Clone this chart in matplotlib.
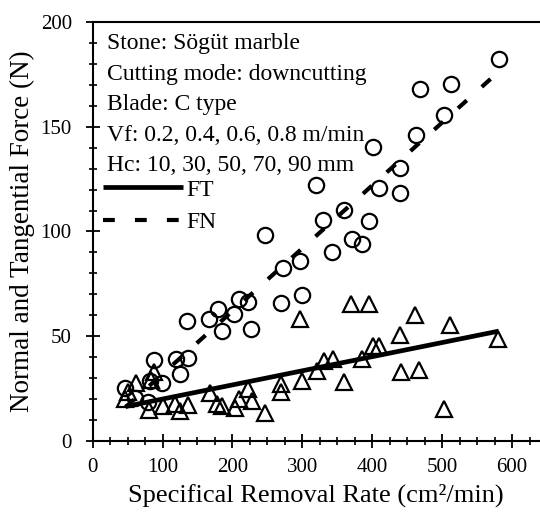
import numpy as np
import matplotlib
matplotlib.use("Agg")
import matplotlib.pyplot as plt
from matplotlib.ticker import MultipleLocator

# FN (normal force) points
fn_x = [581, 512, 469, 503, 462, 401, 440, 409, 440, 320, 360, 330, 396, 247,
        371, 385, 343, 296, 272, 300, 269, 209, 222, 179, 167, 202, 135, 185,
        227, 88, 119, 136, 125, 99, 82, 47, 61, 79]
fn_y = [182.5, 170.6, 167.8, 155.6, 146, 140.5, 130.2, 120.6, 118.3, 122.2,
        110.3, 105.6, 104.8, 98.2, 96.3, 94, 90, 86, 82.5, 69.7, 65.8, 67.6,
        66.2, 62.8, 58.4, 60.5, 57.4, 52.5, 53.6, 38.5, 39.1, 39.8, 31.9, 27.5,
        28.8, 25.4, 20.6, 18.5]

# FT (tangential force) points
ft_x = [62, 50, 47, 88, 84, 80, 100, 118, 125, 136, 168, 178, 185, 203, 210,
        222, 228, 247, 270, 269, 300, 296, 321, 331, 344, 360, 385, 370, 396,
        401, 410, 440, 441, 467, 461, 511, 503, 580]
ft_y = [27.6, 23.2, 20, 32.8, 29, 14.8, 16.5, 17.6, 14.5, 17.2, 22.8, 17.9,
        16.8, 15.6, 20, 24.8, 19.2, 13.5, 27, 23.3, 28.7, 58.2, 33.5, 38.3, 39,
        28, 39, 65.3, 65.3, 45.4, 45.4, 50.4, 32.8, 34, 60.3, 55.2, 15.5, 48.6]

# fitted lines (slope, intercept) as printed in the figure
ft_fit = (0.0674, 13.3)
fn_fit = (0.300, 2.0)
fit_range = [47, 581]

notes = ["Stone: Sögüt marble",
         "Cutting mode: downcutting",
         "Blade: C type",
         "Vf: 0.2, 0.4, 0.6, 0.8 m/min",
         "Hc: 10, 30, 50, 70, 90 mm"]

plt.rcParams['font.family'] = ['Liberation Serif', 'DejaVu Serif']
plt.rcParams['lines.scale_dashes'] = False

fig = plt.figure(figsize=(5.4, 5.18), dpi=100)
ax = fig.add_axes([0.1715, 0.1486, 0.8285, 0.809])

xs = np.array(fit_range)
ax.plot(xs, ft_fit[0] * xs + ft_fit[1], color='black', lw=3.4, label='FT',
        solid_capstyle='butt', zorder=2)
ax.plot(xs, fn_fit[0] * xs + fn_fit[1], color='black', lw=3.0,
        linestyle=(0, (8.5, 14.5)), label='FN', zorder=2)

ax.plot(fn_x, fn_y, 'o', ms=11, mfc='none', mec='black', mew=1.6, zorder=3)
ax.plot(ft_x, ft_y, '^', ms=11, mfc='none', mec='black', mew=1.6, zorder=3)

ax.set_xlim(0, 640)
ax.set_ylim(0, 200)
ax.xaxis.set_major_locator(MultipleLocator(100))
ax.xaxis.set_minor_locator(MultipleLocator(25))
ax.yaxis.set_major_locator(MultipleLocator(50))
ax.yaxis.set_minor_locator(MultipleLocator(10))
ax.tick_params(which='major', direction='inout', length=10, width=1.3,
               labelsize=15)
ax.tick_params(which='minor', direction='inout', length=6, width=1.2)
ax.tick_params(axis='x', which='major', pad=7)
ax.tick_params(axis='y', which='major', pad=10)
ax.spines['right'].set_visible(False)
for s in ['left', 'bottom', 'top']:
    ax.spines[s].set_linewidth(1.5)

ax.set_xlabel("Specifical Removal Rate (cm²/min)", fontsize=19, labelpad=5)
ax.set_ylabel("Normal and Tangential Force (N)", fontsize=19.5, labelpad=4)

for i, t in enumerate(notes):
    ax.text(0.032, 0.9475 - i * 0.0725, t, transform=ax.transAxes,
            fontsize=17, va='center', ha='left')

ax.legend(loc='upper left', bbox_to_anchor=(0.023, 0.625), frameon=False,
          fontsize=17, handlelength=3.4, handletextpad=0.15, labelspacing=0.47,
          borderpad=0, borderaxespad=0)

fig.savefig("out.png", dpi=100)
